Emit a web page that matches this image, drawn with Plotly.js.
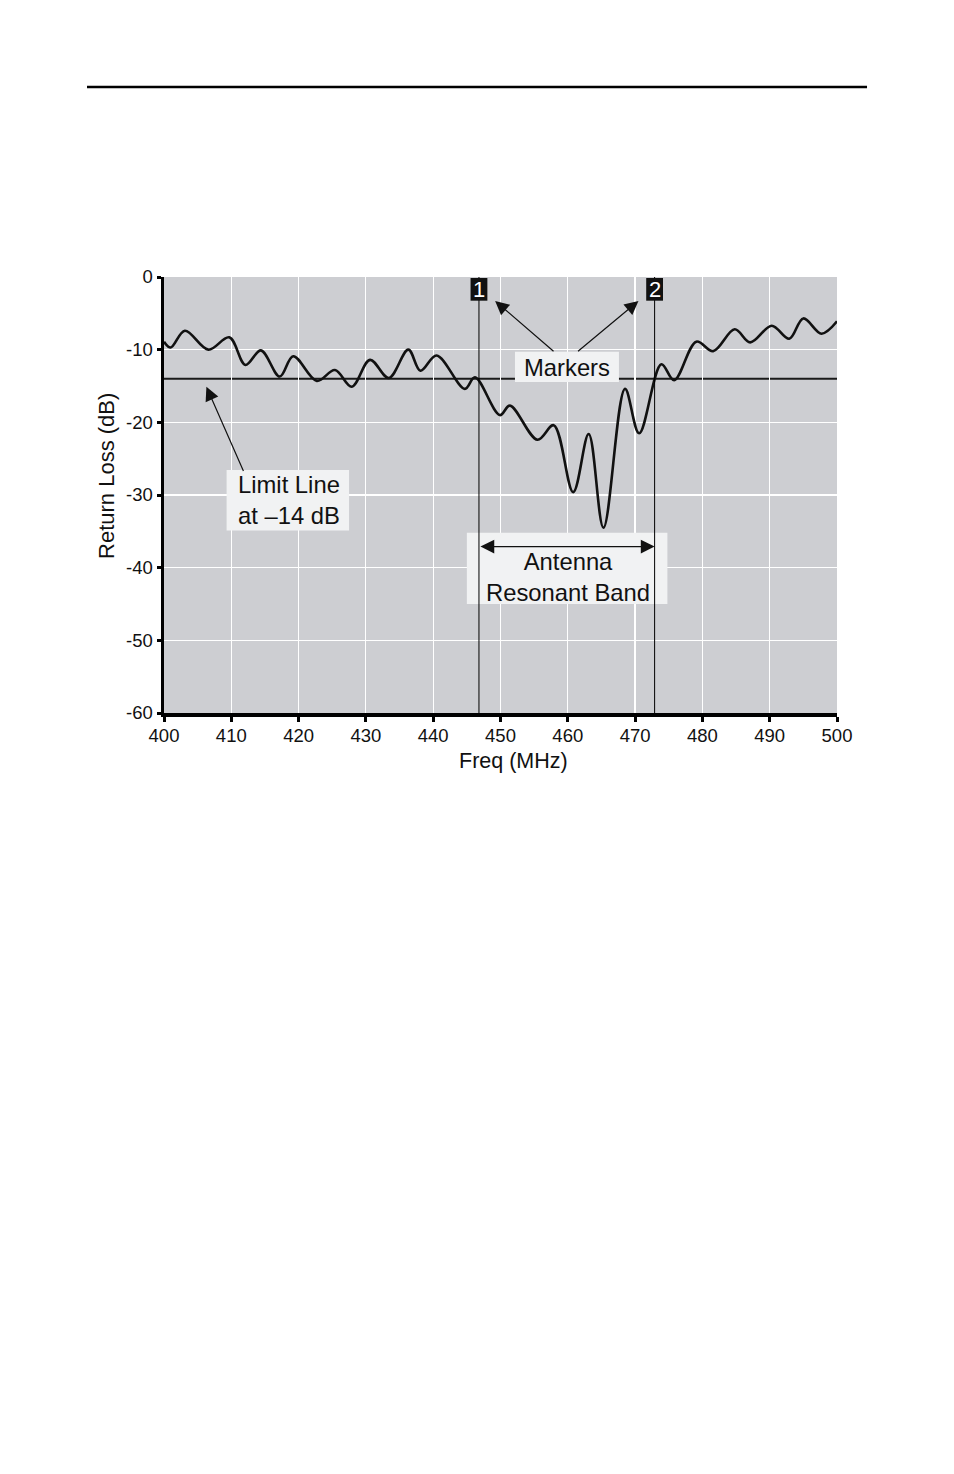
<!DOCTYPE html>
<html>
<head>
<meta charset="utf-8">
<script src="https://cdn.plot.ly/plotly-3.0.1.min.js"></script>
<style>
  html, body { margin: 0; padding: 0; background: #ffffff; }
  #chart { width: 954px; height: 1474px; }
</style>
</head>
<body>
<div id="chart"></div>
<script>
// ---- data ----
const freqMHz = [400, 401, 403.1, 406.6, 409.7, 412.1, 414.4, 417.2, 419.2, 422.7,
  425.4, 427.9, 430.6, 433.4, 436.3, 438.1, 440.5, 444.7, 446.2, 449.9,
  451.4, 455.5, 457.9, 460.8, 463.1, 465.3, 468.5, 470.6, 473.9, 475.8,
  479.1, 481.6, 484.8, 487.1, 490.3, 492.9, 495.0, 497.7, 500];
const returnLossDb = [-8.9, -9.7, -7.4, -10.0, -8.3, -12.1, -10.1, -13.7, -10.9, -14.3,
  -12.8, -15.1, -11.4, -13.9, -10.0, -12.9, -10.8, -15.4, -13.8, -19.0,
  -17.7, -22.4, -20.4, -29.6, -21.6, -34.5, -15.4, -21.5, -12.0, -14.2,
  -8.9, -10.2, -7.2, -9.0, -6.7, -8.5, -5.7, -7.8, -6.1];
const limitDb = -14;
const markerFreqs = [446.8, 472.9];
const markerLabels = ['1', '2'];
const xTickVals = [400, 410, 420, 430, 440, 450, 460, 470, 480, 490, 500];
const xTickLabels = ['400', '410', '420', '430', '440', '450', '460', '470', '480', '490', '500'];
const yTickVals = [0, -10, -20, -30, -40, -50, -60];
const yTickLabels = ['0', '-10', '-20', '-30', '-40', '-50', '-60'];
const xTitle = 'Freq (MHz)';
const yTitle = 'Return Loss (dB)';

const FONT = 'Liberation Sans, Arial, Helvetica, sans-serif';
const BOX = '#f1f2f3';

const trace = {
  x: freqMHz, y: returnLossDb, type: 'scatter', mode: 'lines',
  line: { color: '#111111', width: 2.6, shape: 'spline', smoothing: 1 },
  hoverinfo: 'skip', showlegend: false
};

const shapes = [
  // top rule of page
  { type: 'line', xref: 'paper', yref: 'paper', x0: -0.1144, x1: 1.0446, y0: 1.4358, y1: 1.4358,
    line: { color: '#000', width: 2.5 } },
  // limit line
  { type: 'line', xref: 'paper', yref: 'y', x0: 0, x1: 1, y0: limitDb, y1: limitDb,
    layer: 'between', line: { color: '#1a1a1a', width: 2 } },
  // label boxes
  { type: 'rect', xref: 'x', yref: 'y', x0: 452.15, x1: 467.6, y0: -10.3, y1: -14.45,
    layer: 'between', fillcolor: BOX, line: { width: 0 } },
  { type: 'rect', xref: 'x', yref: 'y', x0: 409.3, x1: 427.5, y0: -26.55, y1: -34.9,
    layer: 'between', fillcolor: BOX, line: { width: 0 } },
  { type: 'rect', xref: 'x', yref: 'y', x0: 445.0, x1: 474.8, y0: -35.2, y1: -45.0,
    layer: 'between', fillcolor: BOX, line: { width: 0 } }
];
markerFreqs.forEach(f => {
  shapes.push({ type: 'line', xref: 'x', yref: 'paper', x0: f, x1: f, y0: 0, y1: 1,
    line: { color: '#000', width: 1 } });
  shapes.push({ type: 'rect', xref: 'x', yref: 'y', x0: f - 1.25, x1: f + 1.25, y0: -0.14, y1: -3.26,
    fillcolor: '#111', line: { width: 0 } });
});

const annFont = { family: FONT, size: 23.8, color: '#111' };
const AS = 2.3;
const annotations = [
  { x: 459.9, y: -12.4, xref: 'x', yref: 'y', text: 'Markers', showarrow: false, font: annFont },
  { x: 418.5, y: -30.7, xref: 'x', yref: 'y', text: 'Limit Line<br>at \u201314 dB', showarrow: false, font: annFont },
  { x: 460.1, y: -41.35, xref: 'x', yref: 'y', text: 'Antenna<br>Resonant Band', showarrow: false, font: annFont },
  // arrows
  { x: 449.2, y: -3.3, ax: 458.1, ay: -10.4, xref: 'x', yref: 'y', axref: 'x', ayref: 'y', text: '',
    showarrow: true, arrowhead: 2, arrowsize: AS, arrowwidth: 1.2, arrowcolor: '#111' },
  { x: 470.5, y: -3.3, ax: 461.3, ay: -10.4, xref: 'x', yref: 'y', axref: 'x', ayref: 'y', text: '',
    showarrow: true, arrowhead: 2, arrowsize: AS, arrowwidth: 1.2, arrowcolor: '#111' },
  { x: 406.3, y: -15.1, ax: 411.9, ay: -26.9, xref: 'x', yref: 'y', axref: 'x', ayref: 'y', text: '',
    showarrow: true, arrowhead: 2, arrowsize: AS, arrowwidth: 1.2, arrowcolor: '#111' },
  { x: markerFreqs[1], y: -37.1, ax: markerFreqs[0], ay: -37.1, xref: 'x', yref: 'y', axref: 'x', ayref: 'y', text: '',
    showarrow: true, arrowhead: 2, startarrowhead: 2, arrowside: 'end+start', arrowsize: AS, startarrowsize: AS,
    arrowwidth: 1.2, arrowcolor: '#111' },
  // axis titles (placed as in the reference, slightly off-centre)
  { x: 0.5186, y: -0.110, xref: 'paper', yref: 'paper', xanchor: 'center', yanchor: 'middle',
    text: xTitle, showarrow: false, font: { family: FONT, size: 21.5, color: '#111' } },
  { x: -0.0847, y: 0.5436, xref: 'paper', yref: 'paper', xanchor: 'center', yanchor: 'middle',
    text: yTitle, showarrow: false, textangle: -90, font: { family: FONT, size: 22, color: '#111' } }
];
markerFreqs.forEach((f, i) => {
  annotations.push({ x: f, y: -1.7, xref: 'x', yref: 'y', text: markerLabels[i], showarrow: false,
    font: { family: FONT, size: 22, color: '#ffffff' } });
});

const layout = {
  width: 954, height: 1474,
  margin: { l: 164, r: 117, t: 277, b: 761, pad: 0 },
  paper_bgcolor: '#ffffff', plot_bgcolor: '#cdced2',
  font: { family: FONT, color: '#111' },
  showlegend: false,
  xaxis: {
    range: [400, 500], tickvals: xTickVals, ticktext: xTickLabels,
    showgrid: true, gridcolor: '#ffffff', gridwidth: 1.2, zeroline: false,
    showline: true, linecolor: '#000', linewidth: 3.5,
    ticks: 'outside', ticklen: 5, tickwidth: 3, tickcolor: '#000',
    ticklabelstandoff: -2,
    tickfont: { family: FONT, size: 18.5, color: '#111' }
  },
  yaxis: {
    range: [-60, 0], tickvals: yTickVals, ticktext: yTickLabels,
    showgrid: true, gridcolor: '#ffffff', gridwidth: 1.2, zeroline: false,
    showline: true, linecolor: '#000', linewidth: 3.5,
    ticks: 'outside', ticklen: 4, tickwidth: 3, tickcolor: '#000',
    tickfont: { family: FONT, size: 18.5, color: '#111' }
  },
  shapes: shapes,
  annotations: annotations
};

Plotly.newPlot('chart', [trace], layout, { staticPlot: true, displayModeBar: false });
</script>
</body>
</html>
